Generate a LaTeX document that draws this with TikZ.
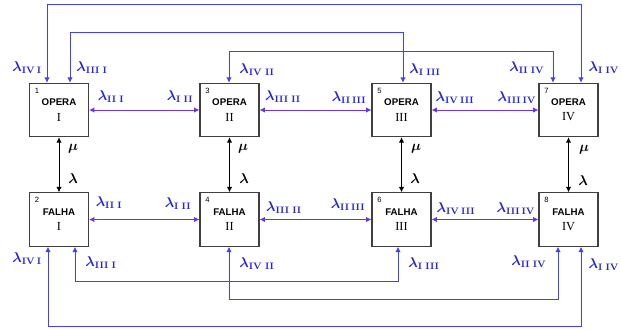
\documentclass[tikz,border=0pt]{standalone}
\usepackage{fontspec}
\newfontfamily\boxsans{Liberation Sans}
\newfontfamily\boxserif{Liberation Serif}
\usetikzlibrary{arrows.meta}
\definecolor{loopblue}{HTML}{4040FF}
\definecolor{pairviolet}{HTML}{6633F0}
\definecolor{rateblue}{HTML}{2222E0}
\definecolor{boxgray}{HTML}{404040}
\tikzset{
  statebox/.style={
    draw=boxgray,
    line width=0.9pt,
    fill=white,
    minimum width=1.77cm,
    minimum height=1.6cm,
    inner sep=0pt,
    align=center
  },
  statenum/.style={
    anchor=north west,
    inner sep=0pt,
    font=\boxsans\fontsize{6.5}{7}\selectfont
  },
  rate/.style={text=rateblue, inner sep=0pt, font=\large\boldmath},
  repair/.style={inner sep=0pt, font=\large\boldmath},
  pairarrow/.style={{Latex[length=1.6mm,width=1.6mm]}-{Latex[length=1.6mm,width=1.6mm]},line width=0.8pt,draw=pairviolet},
  looparrow/.style={{Latex[length=1.6mm,width=1.6mm]}-{Latex[length=1.6mm,width=1.6mm]},line width=0.8pt,draw=loopblue},
  failarrow/.style={{Latex[length=1.6mm,width=1.6mm]}-{Latex[length=1.6mm,width=1.6mm]},line width=0.8pt,draw=black}
}
\newcommand{\opbox}[1]{{\boxsans\bfseries\fontsize{8.3}{9}\selectfont OPERA}\\[1pt]{\boxserif\fontsize{10.5}{12}\selectfont #1}}
\newcommand{\fabox}[1]{{\boxsans\bfseries\fontsize{8.3}{9}\selectfont FALHA}\\[1pt]{\boxserif\fontsize{10.5}{12}\selectfont #1}}
\newcommand{\rt}[1]{$\lambda_{\mathbf{#1}}$}

\begin{document}
\begin{tikzpicture}[x=0.03cm,y=-0.03cm]
\useasboundingbox (0,0) rectangle (621,329);
% states
\node[statebox] (s1) at (59,110) {\opbox{I}};
\node[statebox] (s3) at (229.5,110) {\opbox{II}};
\node[statebox] (s5) at (401.5,110) {\opbox{III}};
\node[statebox] (s7) at (568.5,110) {\opbox{IV}};
\node[statebox] (s2) at (59,219.5) {\fabox{I}};
\node[statebox] (s4) at (229.5,219.5) {\fabox{II}};
\node[statebox] (s6) at (401.5,219.5) {\fabox{III}};
\node[statebox] (s8) at (568.5,219.5) {\fabox{IV}};
\node[statenum] (n1) at ([shift={(0.17cm,-0.15cm)}]s1.north west) {1};
\node[statenum] (n3) at ([shift={(0.17cm,-0.15cm)}]s3.north west) {3};
\node[statenum] (n5) at ([shift={(0.17cm,-0.15cm)}]s5.north west) {5};
\node[statenum] (n7) at ([shift={(0.17cm,-0.15cm)}]s7.north west) {7};
\node[statenum] (n2) at ([shift={(0.17cm,-0.15cm)}]s2.north west) {2};
\node[statenum] (n4) at ([shift={(0.17cm,-0.15cm)}]s4.north west) {4};
\node[statenum] (n6) at ([shift={(0.17cm,-0.15cm)}]s6.north west) {6};
\node[statenum] (n8) at ([shift={(0.17cm,-0.15cm)}]s8.north west) {8};

% fail / repair
\draw[failarrow] (s1) -- (s2);
\draw[failarrow] (s3) -- (s4);
\draw[failarrow] (s5) -- (s6);
\draw[failarrow] (s7) -- (s8);
\node[repair] (mu1) at (73,149) {$\mu$};
\node[repair] (mu3) at (243,149) {$\mu$};
\node[repair] (mu5) at (416,149) {$\mu$};
\node[repair] (mu7) at (584,150) {$\mu$};
\node[repair] (la1) at (73,179) {$\lambda$};
\node[repair] (la3) at (244,179) {$\lambda$};
\node[repair] (la5) at (415,179) {$\lambda$};
\node[repair] (la7) at (583,181) {$\lambda$};

% neighbours
\draw[pairarrow] (s1) -- (s3);
\draw[pairarrow] (s3) -- (s5);
\draw[pairarrow] (s5) -- (s7);
\draw[pairarrow] (s2) -- (s4);
\draw[pairarrow] (s4) -- (s6);
\draw[pairarrow] (s6) -- (s8);

% long jumps
\draw[looparrow] (s1.north -| 47,0) |- (581,4) -- (s7.north -| 581,0);
\draw[looparrow] (s1.north -| 70,0) |- (403,32) -- (s5.north -| 403,0);
\draw[looparrow] (s3.north -| 229,0) |- (553,51) -- (s7.north -| 553,0);
\draw[looparrow] (s2.south -| 48,0) |- (581,326) -- (s8.south -| 581,0);
\draw[looparrow] (s2.south -| 75,0) |- (398,281) -- (s6.south -| 398,0);
\draw[looparrow] (s4.south -| 229,0) |- (558,299) -- (s8.south -| 558,0);

% rates, top row
\node[rate] (tIVI) at (27,68) {\rt{IV\,I}};
\node[rate] (tIIII) at (92,68) {\rt{III\;I}};
\node[rate] (tIII) at (111,97) {\rt{II\;I}};
\node[rate] (tIII2) at (180,97) {\rt{I\;II}};
\node[rate] (tIVII) at (257,70) {\rt{IV\;II}};
\node[rate] (tIIIII) at (283,97) {\rt{III\;II}};
\node[rate] (tIIIII2) at (349,98) {\rt{II\,III}};
\node[rate] (tIIII2) at (425,70) {\rt{I\;III}};
\node[rate] (tIVIII) at (455,98) {\rt{IV\,III}};
\node[rate] (tIIIIV) at (517,98) {\rt{III\,IV}};
\node[rate] (tIIIV) at (527,68) {\rt{II\;IV}};
\node[rate] (tIIV) at (604,68) {\rt{I\;IV}};

% rates, bottom row
\node[rate] (bIII) at (109,203) {\rt{II\;I}};
\node[rate] (bIII2) at (178,204) {\rt{I\;II}};
\node[rate] (bIIIII) at (284,208) {\rt{III\;II}};
\node[rate] (bIVI) at (27,259) {\rt{IV\,I}};
\node[rate] (bIIII) at (101,263) {\rt{III\;I}};
\node[rate] (bIVII) at (257,264) {\rt{IV\;II}};
\node[rate] (bIIIII2) at (348,205) {\rt{II\,III}};
\node[rate] (bIVIII) at (456,209) {\rt{IV\,III}};
\node[rate] (bIIIIV) at (516,209) {\rt{III\,IV}};
\node[rate] (bIIII2) at (424,264) {\rt{I\;III}};
\node[rate] (bIIIV) at (529,262) {\rt{II\;IV}};
\node[rate] (bIIV) at (604,265) {\rt{I\;IV}};
\end{tikzpicture}
\end{document}
